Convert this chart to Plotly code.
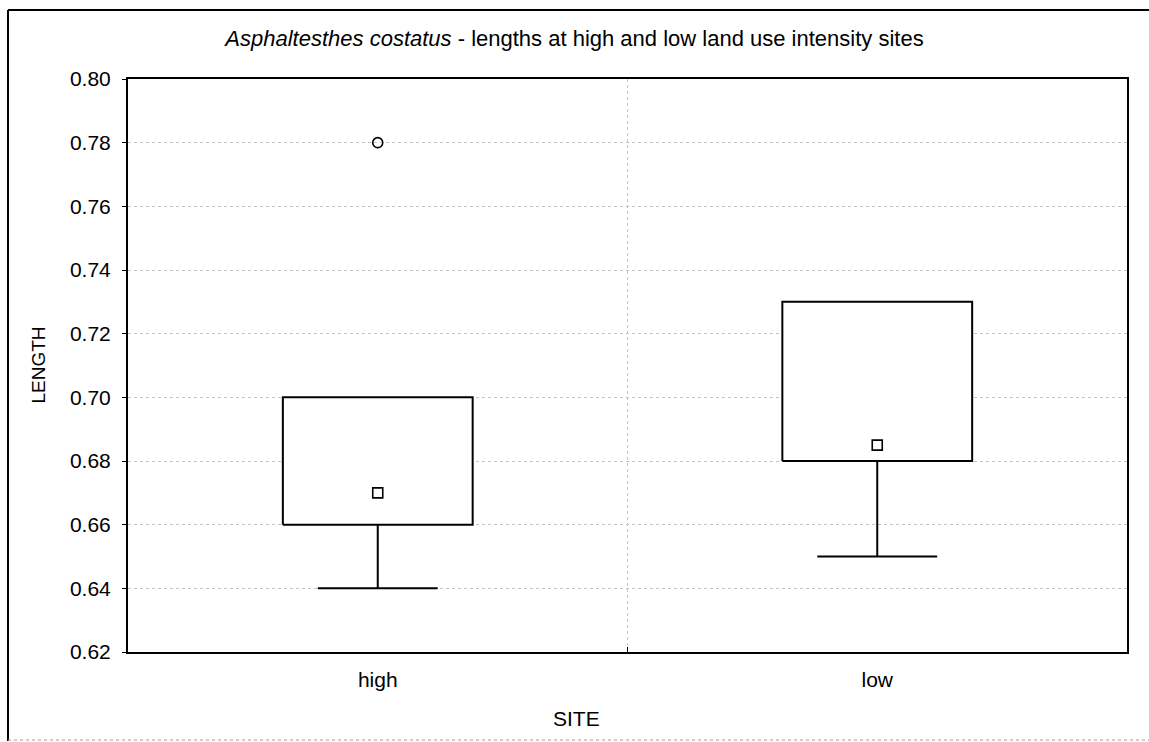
import plotly.graph_objects as go

# Summary statistics of LENGTH per SITE
sites = ["high", "low"]
q1 = [0.66, 0.68]
q3 = [0.70, 0.73]
medians = [0.67, 0.685]
whisker_low = [0.64, 0.65]
whisker_high = [0.70, 0.73]
outlier_site = ["high"]
outlier_value = [0.78]

y_ticks = [0.62, 0.64, 0.66, 0.68, 0.70, 0.72, 0.74, 0.76, 0.78, 0.80]

BOX_HALF = 0.19
CAP_HALF = 0.12
LINE = dict(color="black", width=2)
FONT = "Liberation Sans, Arial, sans-serif"
GRID = "#c4c4c4"

fig = go.Figure()

for i, s in enumerate(sites):
    # whisker stem and cap below the box
    fig.add_trace(go.Scatter(
        x=[i, i, None, i - CAP_HALF, i + CAP_HALF],
        y=[q1[i], whisker_low[i], None, whisker_low[i], whisker_low[i]],
        mode="lines", line=LINE, hoverinfo="skip", showlegend=False))
    # whisker above the box (only drawn when it extends past q3)
    if whisker_high[i] > q3[i]:
        fig.add_trace(go.Scatter(
            x=[i, i, None, i - CAP_HALF, i + CAP_HALF],
            y=[q3[i], whisker_high[i], None, whisker_high[i], whisker_high[i]],
            mode="lines", line=LINE, hoverinfo="skip", showlegend=False))
    # 25-75% box
    fig.add_trace(go.Scatter(
        x=[i - BOX_HALF, i + BOX_HALF, i + BOX_HALF, i - BOX_HALF, i - BOX_HALF],
        y=[q1[i], q1[i], q3[i], q3[i], q1[i]],
        mode="lines", fill="toself", fillcolor="white", line=LINE,
        hoverinfo="skip", showlegend=False))

# medians
fig.add_trace(go.Scatter(
    x=list(range(len(sites))), y=medians, mode="markers",
    marker=dict(symbol="square-open", size=10, color="black", line=dict(width=1.6)),
    showlegend=False))

# outliers
fig.add_trace(go.Scatter(
    x=[sites.index(s) for s in outlier_site], y=outlier_value, mode="markers",
    marker=dict(symbol="circle-open", size=10, color="black", line=dict(width=1.6)),
    showlegend=False))

fig.update_layout(
    width=1149, height=742,
    margin=dict(l=128, r=22, t=79, b=90),
    paper_bgcolor="white", plot_bgcolor="white",
    font=dict(family=FONT, size=21, color="black"),
    title=dict(
        text="<i>Asphaltesthes costatus</i> - lengths at high and low land use intensity sites",
        x=0.5, xref="container", y=1 - 38 / 742, yref="container",
        xanchor="center", yanchor="middle",
        font=dict(family=FONT, size=22, color="black")),
    xaxis=dict(
        range=[-0.5, 1.5], tickmode="array", tickvals=list(range(len(sites))),
        ticktext=sites, ticks="", showgrid=False, zeroline=False,
        showline=True, linecolor="black", linewidth=2, mirror=True,
        ticklabelstandoff=8,
        minor=dict(tickmode="array", tickvals=[0.5], ticks="inside", ticklen=5,
                   tickcolor="black", showgrid=True, gridcolor=GRID,
                   griddash="dot", gridwidth=1)),
    yaxis=dict(
        range=[0.62, 0.80], tickmode="array", tickvals=y_ticks,
        ticktext=[f"{v:.2f}" for v in y_ticks],
        ticks="outside", ticklen=4, tickcolor="black",
        showgrid=True, gridcolor=GRID, griddash="dot", gridwidth=1,
        zeroline=False, showline=True, linecolor="black", linewidth=2,
        mirror=True, ticklabelstandoff=7),
)

# axis titles
fig.add_annotation(text="SITE", xref="paper", yref="paper",
                   x=(576 - 128) / 999, y=(652 - 718) / 573,
                   showarrow=False, xanchor="center", yanchor="middle",
                   font=dict(family=FONT, size=21, color="black"))
fig.add_annotation(text="LENGTH", xref="paper", yref="paper",
                   x=(38 - 128) / 999, y=0.5, textangle=-90,
                   showarrow=False, xanchor="center", yanchor="middle",
                   font=dict(family=FONT, size=19, color="black"))

# outer frame of the graph window
px = lambda v: (v - 128) / 999
py = lambda v: (652 - v) / 573
fig.add_shape(type="line", xref="paper", yref="paper",
              x0=px(8), x1=px(8), y0=py(10), y1=py(741),
              line=dict(color="black", width=2))
fig.add_shape(type="line", xref="paper", yref="paper",
              x0=px(8), x1=px(1152), y0=py(10), y1=py(10),
              line=dict(color="black", width=2))
fig.add_shape(type="line", xref="paper", yref="paper",
              x0=px(8), x1=px(1152), y0=py(740), y1=py(740),
              line=dict(color="#9a9a9a", width=1, dash="dot"))

fig.write_html("out.html")
